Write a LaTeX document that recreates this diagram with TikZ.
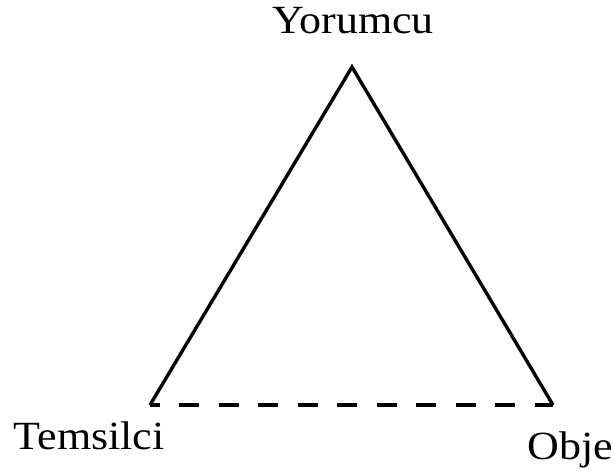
\documentclass[tikz,border=0pt]{standalone}
\usepackage{fontspec}
\setmainfont{Liberation Serif}
\usetikzlibrary{positioning}
\newcommand{\widetext}[1]{\scalebox{1.1}[1]{#1}}

\begin{document}
\begin{tikzpicture}[x=1pt, y=-1pt, line width=3.4pt,
  lbl/.style={inner sep=0pt, font=\fontsize{40}{44}\selectfont}]
  \useasboundingbox (0,0) rectangle (614,474);
  %% corners of the triangle
  \coordinate (top) at (352,67);
  \coordinate (left) at (150,405);
  \coordinate (right) at (553,405);
  %% labels
  \node[lbl, anchor=base] (yorumcu) at (353,33) {\widetext{Yorumcu}};
  \node[lbl, anchor=base west] (temsilci) at (12,449) {\widetext{Temsilci}};
  \node[lbl, anchor=base west] (obje) at (526,459) {\widetext{Obje}};
  %% sides
  \draw[line join=miter] (left) -- (top) -- (right);
  \draw[dash pattern=on 20pt off 19.5pt, dash phase=10.5pt] (left) -- (right);
\end{tikzpicture}
\end{document}
